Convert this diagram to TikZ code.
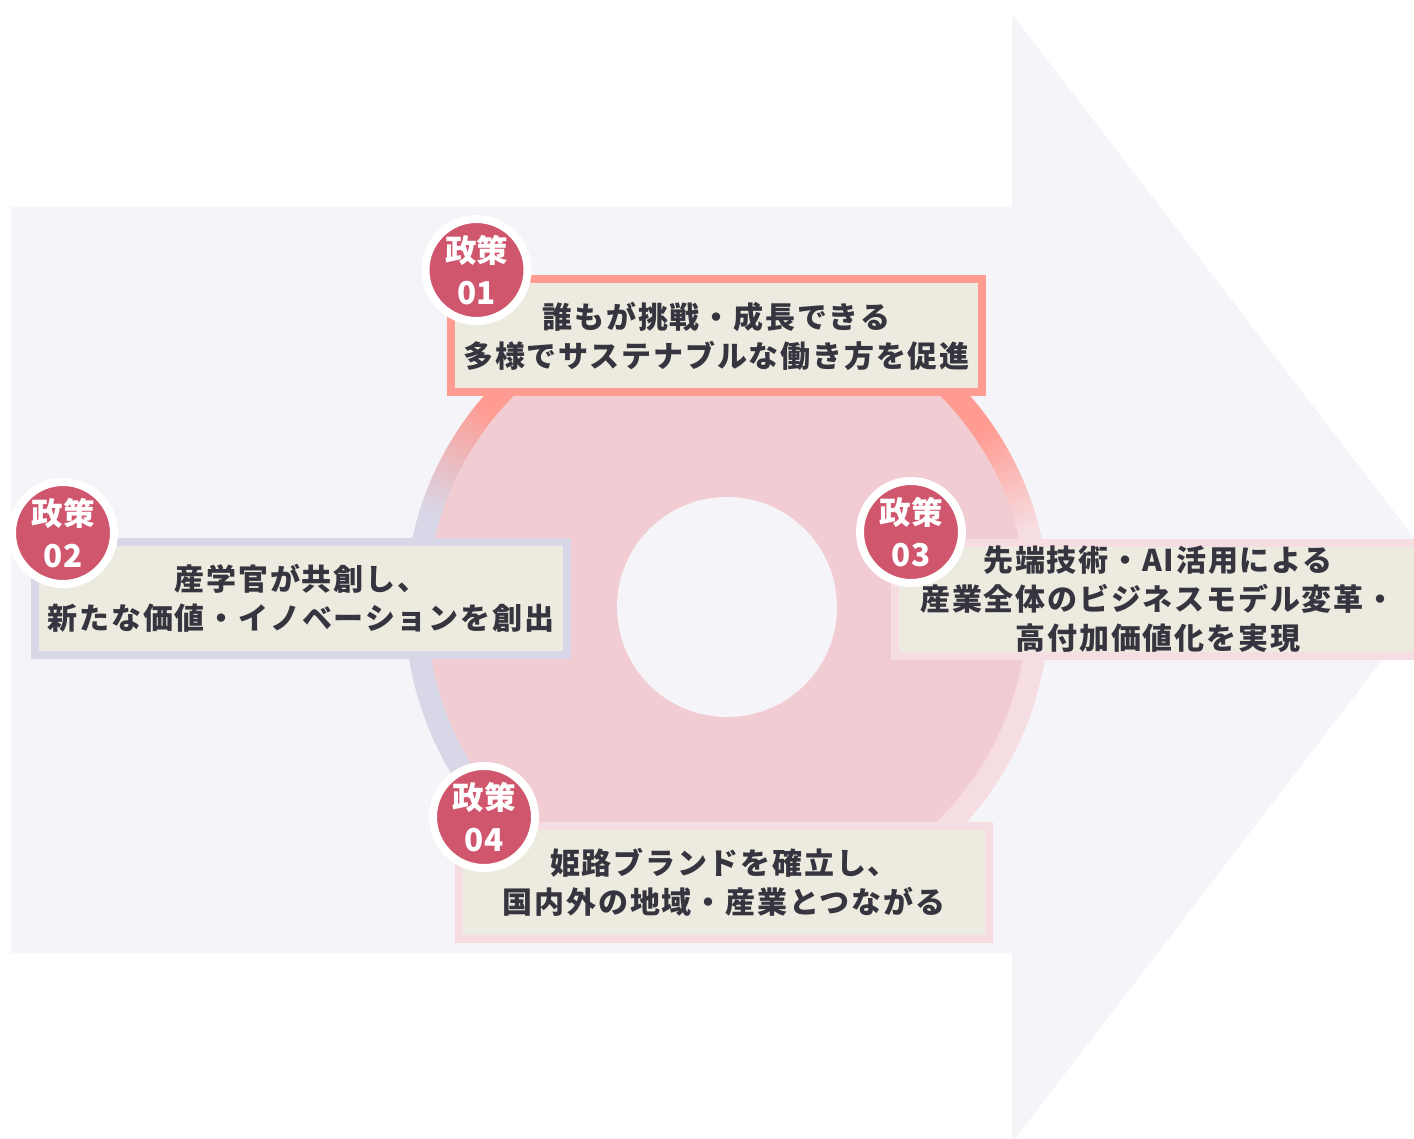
\documentclass[tikz,border=0pt]{standalone}
\usepackage{fontspec}
\setmainfont{Noto Sans CJK JP}
\newfontfamily\boxfont{Noto Sans CJK JP}[LetterSpace=6]
\usetikzlibrary{positioning}

\definecolor{arrowbg}{HTML}{F5F5F9}
\definecolor{diskpink}{HTML}{F2CCD3}
\definecolor{ringpink}{HTML}{F6DDE2}
\definecolor{salmon}{HTML}{FF9B91}
\definecolor{lavender}{HTML}{D8D7E8}
\definecolor{boxfill}{HTML}{EDEBDF}
\definecolor{badgered}{HTML}{D0566D}
\definecolor{ink}{HTML}{35343F}

\begin{document}
\begin{tikzpicture}
  [x=1pt, y=-1pt,
  policy/.style={draw, line width=8pt, fill=boxfill, inner sep=0pt, align=center, text=ink,
      minimum height=113pt, font=\boxfont\fontsize{30}{39}\selectfont\bfseries},
  badge/.style={circle, draw=white, line width=8pt, fill=badgered, minimum size=102pt,
      inner sep=0pt, align=center, text=white, font=\fontsize{31.5}{42}\selectfont\bfseries}]

  \useasboundingbox (0,0) rectangle (1414,1139);

  % big arrow in the back
  \fill[arrowbg] (11,207) -- (1012,207) -- (1012,14) -- (1445,578)
      -- (1012,1143) -- (1012,953) -- (11,953) -- cycle;

  % ring
  \coordinate (hub) at (727,607);
  \begin{scope}[shift={(hub)}]
    \fill[ringpink] (0,0) circle[radius=322pt];
    \fill[salmon] (0,0) -- (34:322pt) arc[start angle=34, end angle=140, radius=322pt] -- cycle;
    \fill[lavender] (0,0) -- (162:322pt) arc[start angle=162, end angle=270, radius=322pt] -- cycle;
    \foreach \a in {14,...,33}{
      \pgfmathtruncatemacro{\p}{5*(\a-14)}
      \fill[salmon!\p!ringpink] (0,0) -- (\a:322pt) arc[start angle=\a, end angle=\a+1.5, radius=322pt] -- cycle;
    }
    \foreach \a in {140,...,161}{
      \pgfmathtruncatemacro{\p}{100-100*(\a-140)/22}
      \fill[salmon!\p!lavender] (0,0) -- (\a:322pt) arc[start angle=\a, end angle=\a+1.5, radius=322pt] -- cycle;
    }
    \fill[diskpink] (0,0) circle[radius=300pt];
    \fill[arrowbg] (0,0) circle[radius=110pt];
  \end{scope}

  % policy boxes
  \node[policy, draw=salmon, minimum width=531pt] (work) at (716.5,336)
      {誰もが挑戦・成長できる\\多様でサステナブルな働き方を促進};
  \node[policy, draw=lavender, minimum width=532pt] (cocreate) at (301,598.5)
      {産学官が共創し、\\新たな価値・イノベーションを創出};
  \node[policy, draw=ringpink, minimum width=526pt] (tech) at (1158,599.5)
      {先端技術・AI活用による\\産業全体のビジネスモデル変革・\\高付加価値化を実現};
  \node[policy, draw=ringpink, minimum width=530pt] (brand) at (724,882.5)
      {姫路ブランドを確立し、\\国内外の地域・産業とつながる};

  % badges
  \node[badge] (b1) at (476.5,270) {政策\\01};
  \node[badge] (b2) at (63,533) {政策\\02};
  \node[badge] (b3) at (911,532) {政策\\03};
  \node[badge] (b4) at (484,817) {政策\\04};
\end{tikzpicture}
\end{document}
